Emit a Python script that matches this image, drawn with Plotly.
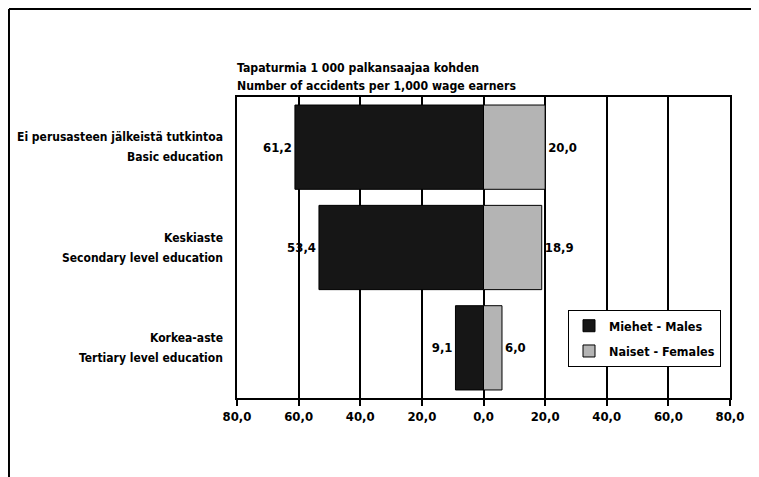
import plotly.graph_objs as go

categories = ["Basic", "Secondary", "Tertiary"]
labels_fi = ["Ei perusasteen jälkeistä tutkintoa", "Keskiaste", "Korkea-aste"]
labels_en = ["Basic education", "Secondary level education", "Tertiary level education"]
males = [61.2, 53.4, 9.1]
females = [20.0, 18.9, 6.0]
tick_vals = [-80, -60, -40, -20, 0, 20, 40, 60, 80]
tick_text = ["80,0", "60,0", "40,0", "20,0", "0,0", "20,0", "40,0", "60,0", "80,0"]

FONT = "DejaVu Sans Condensed, Liberation Sans Narrow, sans-serif"


def fmt(v):
    return f"{v:.1f}".replace(".", ",")


def bold_font(size=13):
    return dict(family=FONT, size=size, color="black", weight="bold")


fig = go.Figure()
fig.add_trace(go.Bar(y=categories,
                     x=[-v for v in males],
                     orientation="h",
                     name="Miehet - Males",
                     legendgroup="m",
                     marker=dict(color="#161616", line=dict(color="black", width=1)),
                     text=[fmt(v) for v in males],
                     textposition="outside",
                     textfont=bold_font(),
                     cliponaxis=False))
fig.add_trace(go.Bar(y=categories,
                     x=females,
                     orientation="h",
                     name="Naiset - Females",
                     legendgroup="f",
                     marker=dict(color="#b4b4b4", line=dict(color="black", width=1)),
                     text=[fmt(v) for v in females],
                     textposition="outside",
                     textfont=bold_font(),
                     cliponaxis=False))

# category labels, two lines each, right aligned next to the plot
for cat, fi, en in zip(categories, labels_fi, labels_en):
    fig.add_annotation(xref="paper", yref="y", x=-0.024, y=cat, yshift=10,
                       xanchor="right", yanchor="middle", showarrow=False,
                       text=fi, font=bold_font(12))
    fig.add_annotation(xref="paper", yref="y", x=-0.024, y=cat, yshift=-10,
                       xanchor="right", yanchor="middle", showarrow=False,
                       text=en, font=bold_font(12))

# outer frame of the scanned figure
frame = dict(type="line", xref="paper", yref="paper", line=dict(color="black", width=2))
fig.add_shape(frame, x0=-0.4625, x1=-0.4625, y0=1.2924, y1=-0.4)
fig.add_shape(frame, x0=-0.4625, x1=1.0548, y0=1.2924, y1=1.2924)
fig.add_shape(frame, x0=1.0548, x1=1.0548, y0=1.2924, y1=-0.4)

fig.add_annotation(xref="paper", yref="paper", x=-0.004, y=1.0963,
                   xanchor="left", yanchor="middle", showarrow=False,
                   text="Tapaturmia 1 000 palkansaajaa kohden", font=bold_font(12.2))
fig.add_annotation(xref="paper", yref="paper", x=-0.004, y=1.0365,
                   xanchor="left", yanchor="middle", showarrow=False,
                   text="Number of accidents per 1,000 wage earners", font=bold_font(12.2))

fig.update_layout(
    width=759, height=477,
    margin=dict(l=229, r=37, t=89, b=87),
    paper_bgcolor="white", plot_bgcolor="white",
    barmode="relative", bargap=0.16,
    font=bold_font(),
    showlegend=True,
    legend=dict(x=0.6714, y=0.292, xanchor="left", yanchor="top",
                bgcolor="white", bordercolor="black", borderwidth=1,
                font=bold_font(12.5), tracegroupgap=6, traceorder="grouped",
                itemwidth=30),
    xaxis=dict(range=[-80, 80], tickvals=tick_vals, ticktext=tick_text,
               showgrid=True, gridcolor="black", gridwidth=1.5,
               zeroline=True, zerolinecolor="black", zerolinewidth=1.5,
               showline=True, linecolor="black", linewidth=1.5, mirror=True,
               ticks="outside", ticklen=6, tickcolor="black", tickwidth=1.5,
               tickfont=bold_font(), automargin=False),
    yaxis=dict(autorange="reversed", showgrid=False, showticklabels=False,
               showline=True, linecolor="black", linewidth=1.5, mirror=True,
               ticks="", automargin=False),
)

fig.write_html("out.html")
